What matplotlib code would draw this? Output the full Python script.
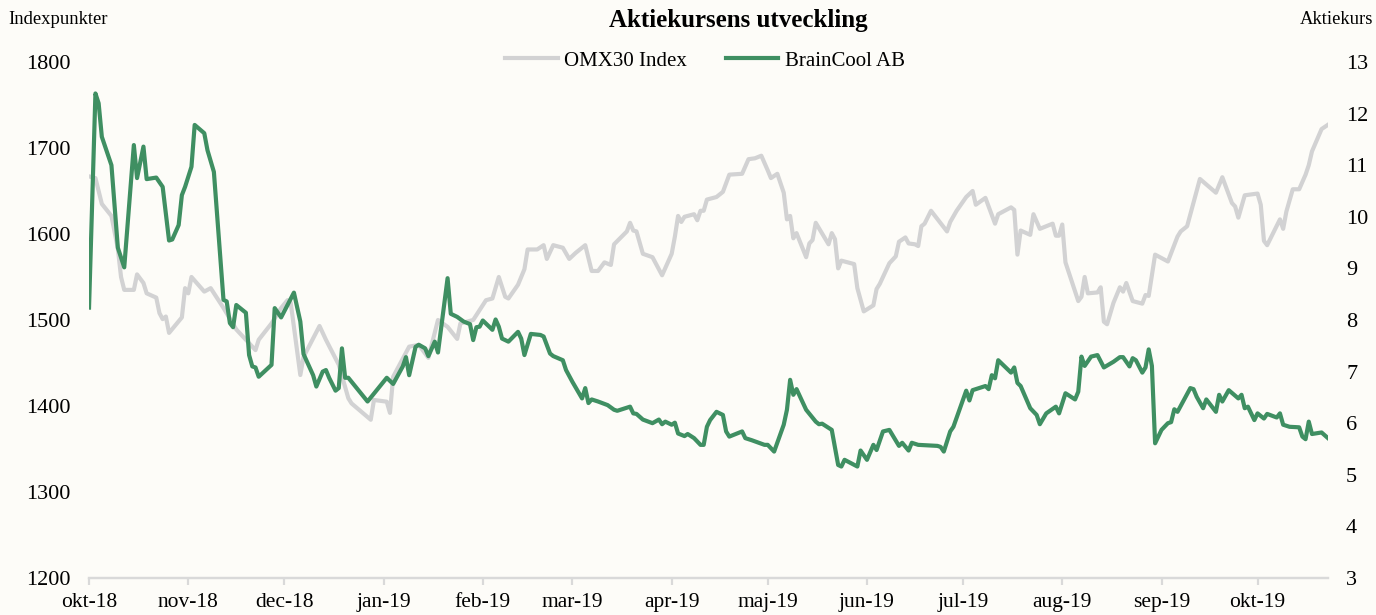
import matplotlib
matplotlib.use("Agg")
import matplotlib.pyplot as plt
import matplotlib.dates as mdates
import pandas as pd

plt.rcParams["font.family"] = ["Liberation Serif", "DejaVu Serif"]

# ---- data ----
omx_dates = [
    "2018-10-01", "2018-10-03", "2018-10-05", "2018-10-08", "2018-10-10", "2018-10-11",
    "2018-10-12", "2018-10-15", "2018-10-16", "2018-10-18", "2018-10-19", "2018-10-22",
    "2018-10-23", "2018-10-24", "2018-10-25", "2018-10-26", "2018-10-30", "2018-10-31",
    "2018-11-01", "2018-11-02", "2018-11-06", "2018-11-08", "2018-11-12", "2018-11-16",
    "2018-11-20", "2018-11-22", "2018-11-23", "2018-11-27", "2018-11-30", "2018-12-02",
    "2018-12-03", "2018-12-06", "2018-12-07", "2018-12-12", "2018-12-14", "2018-12-18",
    "2018-12-21", "2018-12-22", "2018-12-28", "2018-12-29", "2019-01-02", "2019-01-03",
    "2019-01-04", "2019-01-09", "2019-01-12", "2019-01-15", "2019-01-18", "2019-01-21",
    "2019-01-24", "2019-01-25", "2019-01-29", "2019-02-02", "2019-02-04", "2019-02-06",
    "2019-02-08", "2019-02-09", "2019-02-12", "2019-02-14", "2019-02-15", "2019-02-18",
    "2019-02-20", "2019-02-21", "2019-02-23", "2019-02-26", "2019-02-28", "2019-03-02",
    "2019-03-05", "2019-03-07", "2019-03-09", "2019-03-11", "2019-03-13", "2019-03-14",
    "2019-03-18", "2019-03-19", "2019-03-20", "2019-03-21", "2019-03-23", "2019-03-26",
    "2019-03-29", "2019-04-01", "2019-04-02", "2019-04-03", "2019-04-04", "2019-04-05",
    "2019-04-08", "2019-04-09", "2019-04-10", "2019-04-11", "2019-04-12", "2019-04-15",
    "2019-04-17", "2019-04-19", "2019-04-23", "2019-04-25", "2019-04-27", "2019-04-29",
    "2019-05-01", "2019-05-02", "2019-05-04", "2019-05-06", "2019-05-07", "2019-05-08",
    "2019-05-09", "2019-05-10", "2019-05-13", "2019-05-14", "2019-05-15", "2019-05-16",
    "2019-05-20", "2019-05-21", "2019-05-22", "2019-05-23", "2019-05-24", "2019-05-28",
    "2019-05-29", "2019-05-31", "2019-06-03", "2019-06-04", "2019-06-05", "2019-06-08",
    "2019-06-10", "2019-06-11", "2019-06-13", "2019-06-14", "2019-06-16", "2019-06-17",
    "2019-06-18", "2019-06-19", "2019-06-21", "2019-06-26", "2019-06-27", "2019-06-29",
    "2019-07-02", "2019-07-04", "2019-07-05", "2019-07-08", "2019-07-11", "2019-07-12",
    "2019-07-16", "2019-07-17", "2019-07-18", "2019-07-19", "2019-07-22", "2019-07-23",
    "2019-07-25", "2019-07-29", "2019-07-30", "2019-07-31", "2019-08-01", "2019-08-02",
    "2019-08-06", "2019-08-07", "2019-08-08", "2019-08-09", "2019-08-12", "2019-08-13",
    "2019-08-14", "2019-08-15", "2019-08-17", "2019-08-19", "2019-08-20", "2019-08-21",
    "2019-08-23", "2019-08-26", "2019-08-27", "2019-08-28", "2019-08-30", "2019-09-03",
    "2019-09-06", "2019-09-07", "2019-09-09", "2019-09-13", "2019-09-18", "2019-09-20",
    "2019-09-23", "2019-09-24", "2019-09-25", "2019-09-27", "2019-10-01", "2019-10-02",
    "2019-10-03", "2019-10-04", "2019-10-08", "2019-10-09", "2019-10-10", "2019-10-12",
    "2019-10-14", "2019-10-16", "2019-10-17", "2019-10-18", "2019-10-21", "2019-10-23",
]
omx_values = [
    1667, 1665, 1635, 1621, 1583, 1550,
    1535, 1535, 1553, 1543, 1531, 1526,
    1508, 1501, 1504, 1485, 1503, 1537,
    1531, 1550, 1533, 1537, 1514, 1489,
    1473, 1465, 1477, 1496, 1514, 1523,
    1520, 1436, 1457, 1493, 1477, 1448,
    1409, 1403, 1384, 1407, 1405, 1392,
    1434, 1469, 1471, 1456, 1500, 1492,
    1478, 1496, 1500, 1523, 1525, 1550,
    1527, 1525, 1541, 1559, 1582, 1582,
    1587, 1571, 1587, 1584, 1571, 1578,
    1587, 1557, 1557, 1567, 1564, 1588,
    1603, 1613, 1604, 1603, 1577, 1573,
    1552, 1577, 1597, 1621, 1614, 1620,
    1623, 1616, 1627, 1627, 1640, 1643,
    1649, 1669, 1670, 1687, 1688, 1691,
    1674, 1665, 1670, 1648, 1617, 1621,
    1595, 1601, 1573, 1589, 1593, 1613,
    1588, 1601, 1594, 1560, 1569, 1565,
    1537, 1510, 1517, 1536, 1542, 1566,
    1574, 1591, 1596, 1589, 1588, 1586,
    1609, 1612, 1627, 1603, 1614, 1627,
    1643, 1650, 1634, 1642, 1612, 1623,
    1631, 1628, 1576, 1604, 1599, 1623,
    1606, 1612, 1598, 1598, 1611, 1567,
    1522, 1527, 1550, 1531, 1532, 1538,
    1498, 1495, 1520, 1538, 1533, 1543,
    1522, 1519, 1529, 1528, 1576, 1568,
    1597, 1603, 1609, 1664, 1648, 1666,
    1636, 1632, 1619, 1645, 1647, 1634,
    1592, 1587, 1617, 1606, 1626, 1652,
    1652, 1669, 1680, 1696, 1722, 1727,
]

bc_dates = [
    "2018-10-01", "2018-10-03", "2018-10-04", "2018-10-05", "2018-10-08", "2018-10-10",
    "2018-10-12", "2018-10-15", "2018-10-16", "2018-10-18", "2018-10-19", "2018-10-22",
    "2018-10-24", "2018-10-26", "2018-10-27", "2018-10-29", "2018-10-30", "2018-10-31",
    "2018-11-02", "2018-11-03", "2018-11-06", "2018-11-07", "2018-11-09", "2018-11-12",
    "2018-11-13", "2018-11-14", "2018-11-15", "2018-11-16", "2018-11-19", "2018-11-20",
    "2018-11-21", "2018-11-22", "2018-11-23", "2018-11-27", "2018-11-28", "2018-11-30",
    "2018-12-04", "2018-12-06", "2018-12-07", "2018-12-10", "2018-12-11", "2018-12-13",
    "2018-12-14", "2018-12-15", "2018-12-17", "2018-12-18", "2018-12-19", "2018-12-20",
    "2018-12-21", "2018-12-27", "2019-01-02", "2019-01-04", "2019-01-07", "2019-01-08",
    "2019-01-09", "2019-01-11", "2019-01-12", "2019-01-14", "2019-01-15", "2019-01-17",
    "2019-01-18", "2019-01-21", "2019-01-22", "2019-01-24", "2019-01-26", "2019-01-28",
    "2019-01-29", "2019-01-30", "2019-01-31", "2019-02-01", "2019-02-04", "2019-02-05",
    "2019-02-06", "2019-02-07", "2019-02-09", "2019-02-12", "2019-02-13", "2019-02-14",
    "2019-02-16", "2019-02-19", "2019-02-20", "2019-02-22", "2019-02-23", "2019-02-26",
    "2019-02-27", "2019-03-01", "2019-03-04", "2019-03-05", "2019-03-06", "2019-03-07",
    "2019-03-09", "2019-03-12", "2019-03-14", "2019-03-15", "2019-03-19", "2019-03-20",
    "2019-03-21", "2019-03-23", "2019-03-26", "2019-03-28", "2019-03-29", "2019-03-30",
    "2019-04-01", "2019-04-02", "2019-04-03", "2019-04-05", "2019-04-06", "2019-04-08",
    "2019-04-10", "2019-04-11", "2019-04-12", "2019-04-13", "2019-04-15", "2019-04-17",
    "2019-04-18", "2019-04-19", "2019-04-23", "2019-04-24", "2019-04-26", "2019-04-30",
    "2019-05-01", "2019-05-03", "2019-05-06", "2019-05-07", "2019-05-08", "2019-05-09",
    "2019-05-10", "2019-05-13", "2019-05-16", "2019-05-17", "2019-05-18", "2019-05-21",
    "2019-05-23", "2019-05-24", "2019-05-25", "2019-05-29", "2019-05-30", "2019-06-01",
    "2019-06-03", "2019-06-04", "2019-06-06", "2019-06-08", "2019-06-11", "2019-06-12",
    "2019-06-14", "2019-06-15", "2019-06-17", "2019-06-23", "2019-06-24", "2019-06-25",
    "2019-06-27", "2019-06-28", "2019-07-02", "2019-07-03", "2019-07-04", "2019-07-08",
    "2019-07-09", "2019-07-10", "2019-07-11", "2019-07-12", "2019-07-16", "2019-07-17",
    "2019-07-18", "2019-07-19", "2019-07-22", "2019-07-24", "2019-07-25", "2019-07-27",
    "2019-07-30", "2019-07-31", "2019-08-02", "2019-08-05", "2019-08-06", "2019-08-07",
    "2019-08-08", "2019-08-10", "2019-08-12", "2019-08-14", "2019-08-17", "2019-08-19",
    "2019-08-20", "2019-08-22", "2019-08-23", "2019-08-24", "2019-08-26", "2019-08-27",
    "2019-08-28", "2019-08-29", "2019-08-30", "2019-09-01", "2019-09-03", "2019-09-04",
    "2019-09-05", "2019-09-06", "2019-09-10", "2019-09-11", "2019-09-12", "2019-09-14",
    "2019-09-15", "2019-09-18", "2019-09-19", "2019-09-20", "2019-09-22", "2019-09-25",
    "2019-09-26", "2019-09-27", "2019-09-28", "2019-09-30", "2019-10-01", "2019-10-03",
    "2019-10-04", "2019-10-07", "2019-10-08", "2019-10-09", "2019-10-11", "2019-10-14",
    "2019-10-15", "2019-10-16", "2019-10-17", "2019-10-18", "2019-10-21", "2019-10-23",
]
bc_values = [
    8.24, 12.39, 12.20, 11.55, 11.00, 9.40,
    9.02, 11.39, 10.75, 11.36, 10.73, 10.76,
    10.58, 9.54, 9.56, 9.84, 10.42, 10.58,
    10.97, 11.78, 11.62, 11.29, 10.87, 8.39,
    8.36, 7.94, 7.86, 8.29, 8.14, 7.32,
    7.10, 7.08, 6.90, 7.13, 8.23, 8.05,
    8.53, 7.97, 7.34, 6.93, 6.71, 7.00,
    7.03, 6.88, 6.63, 6.68, 7.45, 6.88,
    6.88, 6.42, 6.88, 6.76, 7.10, 7.28,
    6.93, 7.48, 7.52, 7.45, 7.30, 7.58,
    7.37, 8.81, 8.12, 8.06, 7.97, 7.92,
    7.61, 7.86, 7.87, 7.99, 7.81, 8.01,
    7.87, 7.64, 7.58, 7.77, 7.64, 7.32,
    7.73, 7.71, 7.68, 7.35, 7.30, 7.22,
    7.03, 6.80, 6.48, 6.68, 6.39, 6.46,
    6.42, 6.35, 6.26, 6.24, 6.32, 6.19,
    6.18, 6.07, 6.00, 6.07, 5.98, 6.03,
    5.97, 6.01, 5.80, 5.75, 5.79, 5.71,
    5.58, 5.58, 5.93, 6.06, 6.22, 6.16,
    5.84, 5.74, 5.84, 5.71, 5.67, 5.58,
    5.58, 5.45, 5.97, 6.26, 6.84, 6.55,
    6.66, 6.26, 6.03, 5.98, 5.99, 5.87,
    5.19, 5.16, 5.29, 5.16, 5.47, 5.29,
    5.58, 5.48, 5.84, 5.87, 5.56, 5.62,
    5.47, 5.62, 5.58, 5.56, 5.54, 5.45,
    5.84, 5.93, 6.63, 6.44, 6.64, 6.72,
    6.66, 6.93, 6.87, 7.22, 6.98, 7.08,
    6.78, 6.72, 6.29, 6.16, 5.98, 6.19,
    6.32, 6.19, 6.58, 6.46, 6.61, 7.29,
    7.11, 7.29, 7.32, 7.08, 7.19, 7.28,
    7.28, 7.10, 7.26, 7.22, 6.98, 7.08,
    7.43, 7.11, 5.61, 5.87, 6.00, 6.02,
    6.27, 6.22, 6.68, 6.66, 6.51, 6.29,
    6.46, 6.22, 6.55, 6.42, 6.64, 6.48,
    6.55, 6.29, 6.32, 6.06, 6.19, 6.09,
    6.18, 6.11, 6.19, 5.97, 5.93, 5.92,
    5.74, 5.69, 6.03, 5.79, 5.82, 5.71,
]

month_ticks = pd.date_range("2018-10-01", "2019-10-01", freq="MS")
month_labels = ["okt-18", "nov-18", "dec-18", "jan-19", "feb-19", "mar-19", "apr-19",
                "maj-19", "jun-19", "jul-19", "aug-19", "sep-19", "okt-19"]
left_ticks = [1200, 1300, 1400, 1500, 1600, 1700, 1800]
right_ticks = [3, 4, 5, 6, 7, 8, 9, 10, 11, 12, 13]

# ---- figure ----
BG = "#fdfcf8"
GREY = "#d2d2d3"
GREEN = "#3f8f62"
AXIS = "#d9d9d9"

fig = plt.figure(figsize=(13.76, 6.15), dpi=100, facecolor=BG)
ax = fig.add_axes([0.0647, 0.0602, 0.9004, 0.839])
ax.set_facecolor(BG)
ax2 = ax.twinx()

l1, = ax.plot(pd.to_datetime(omx_dates), omx_values, color=GREY, linewidth=3.0,
              solid_joinstyle="round", label="OMX30 Index")
l2, = ax2.plot(pd.to_datetime(bc_dates), bc_values, color=GREEN, linewidth=3.0,
               solid_joinstyle="round", label="BrainCool AB")

ax.set_xlim(pd.Timestamp("2018-10-01"), pd.Timestamp("2019-10-23"))
ax.set_ylim(1200, 1800)
ax2.set_ylim(3, 13)
ax.set_yticks(left_ticks)
ax2.set_yticks(right_ticks)
ax.set_xticks(month_ticks)
ax.set_xticklabels(month_labels)

for a in (ax, ax2):
    for s in ("top", "left", "right"):
        a.spines[s].set_visible(False)
    a.spines["bottom"].set_color(AXIS)
    a.spines["bottom"].set_linewidth(1.6)

ax.tick_params(axis="x", direction="out", length=5, width=1.6, color=AXIS,
               labelsize=15.5, pad=6)
ax.tick_params(axis="y", length=0, labelsize=16, pad=13)
ax2.tick_params(axis="y", length=0, labelsize=16, pad=13)

fig.text(0.006, 1 - 20 / 615, "Indexpunkter", fontsize=13.4, ha="left", va="center")
fig.text(0.998, 1 - 20 / 615, "Aktiekurs", fontsize=13.4, ha="right", va="center")
fig.text(738 / 1376, 1 - 21 / 615, "Aktiekursens utveckling", fontsize=18,
         fontweight="bold", ha="center", va="center")

fig.legend([l1, l2], ["OMX30 Index", "BrainCool AB"], loc="center",
           bbox_to_anchor=(705 / 1376, 1 - 61 / 615), ncol=2, frameon=False,
           fontsize=15, handlelength=2.5, handletextpad=0.3, columnspacing=1.9)

plt.savefig("out.png", dpi=100, facecolor=BG)
plt.close()
